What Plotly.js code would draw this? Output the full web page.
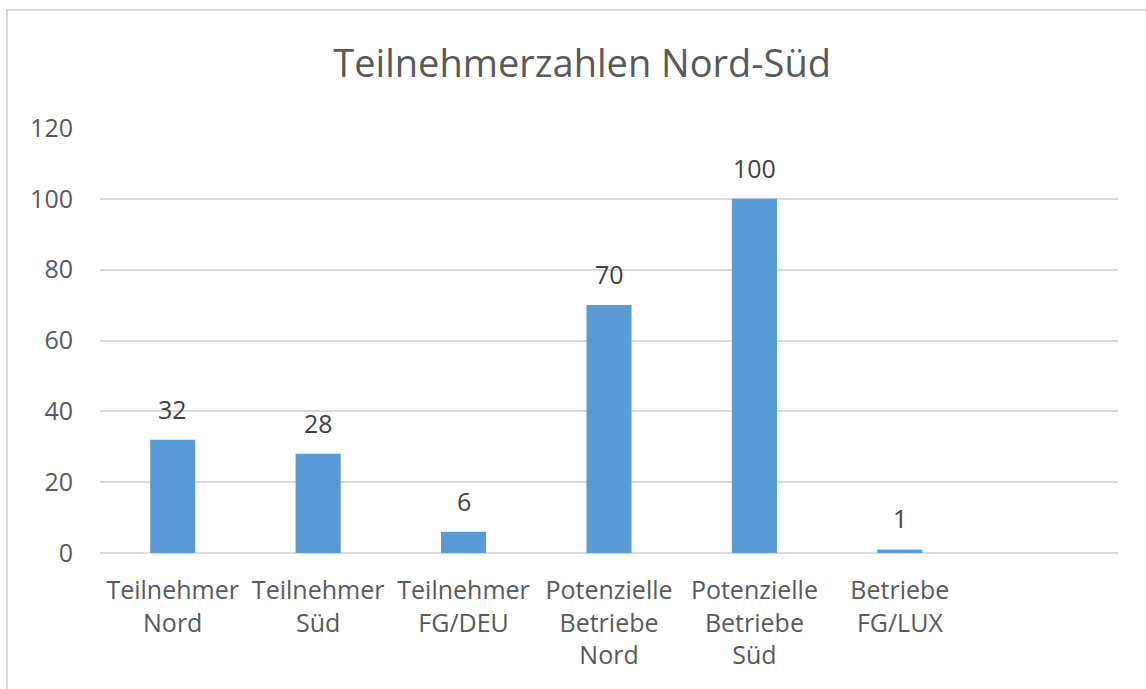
<!DOCTYPE html>
<html>
<head>
<meta charset="utf-8">
<script src="https://cdn.plot.ly/plotly-3.0.1.min.js"></script>
<style>
html,body{margin:0;padding:0;background:#fff;}
#wrap{position:relative;width:1146px;height:689px;overflow:hidden;}
#chart{position:absolute;left:0;top:0;width:1146px;height:689px;}
#frame{position:absolute;left:6px;top:9px;width:1160px;height:700px;border:2px solid #d9d9d9;box-sizing:border-box;pointer-events:none;}
</style>
</head>
<body>
<div id="wrap"><div id="chart"></div><div id="frame"></div></div>
<script>
const categories = ["Teilnehmer<br>Nord", "Teilnehmer<br>Süd", "Teilnehmer<br>FG/DEU", "Potenzielle<br>Betriebe<br>Nord", "Potenzielle<br>Betriebe<br>Süd", "Betriebe<br>FG/LUX"];
const values = [32, 28, 6, 70, 100, 1];
const titleText = "Teilnehmerzahlen Nord-Süd";
const yTicks = [0, 20, 40, 60, 80, 100, 120];

const font = "'Open Sans', 'Noto Sans', sans-serif";
const txtColor = "#595959";

const labels = categories.map((c, i) => ({
  x: c, y: values[i], xref: "x", yref: "y",
  text: String(values[i]), showarrow: false,
  yanchor: "middle", yshift: 31,
  font: {family: font, size: 25, color: "#404040"}
}));

Plotly.newPlot("chart", [{
  type: "bar",
  x: categories,
  y: values,
  marker: {color: "#5b9bd5"},
  width: 0.31,
  hoverinfo: "none"
}], {
  width: 1146, height: 689,
  margin: {l: 100, r: 28, t: 128, b: 136},
  paper_bgcolor: "#fff", plot_bgcolor: "#fff",
  showlegend: false,
  title: {text: titleText, x: 0.508, xanchor: "center", y: 0.908, yanchor: "middle",
          font: {family: font, size: 38, color: txtColor}},
  font: {family: font, color: txtColor},
  annotations: labels,
  xaxis: {
    type: "category",
    range: [-0.5, 6.5],
    showgrid: false, zeroline: false, showline: false,
    ticks: "", tickfont: {family: font, size: 25, color: txtColor},
    ticklabelstandoff: 20,
    fixedrange: true
  },
  yaxis: {
    range: [0, 120],
    tickvals: yTicks,
    ticktext: yTicks.map(String),
    showgrid: true, gridcolor: "#d9d9d9", gridwidth: 2,
    zeroline: true, zerolinecolor: "#d9d9d9", zerolinewidth: 2,
    showline: false, ticks: "", ticklen: 0,
    tickfont: {family: font, size: 25, color: txtColor},
    ticklabelstandoff: 26,
    fixedrange: true
  }
}, {displayModeBar: false, staticPlot: true});
</script>
</body>
</html>
